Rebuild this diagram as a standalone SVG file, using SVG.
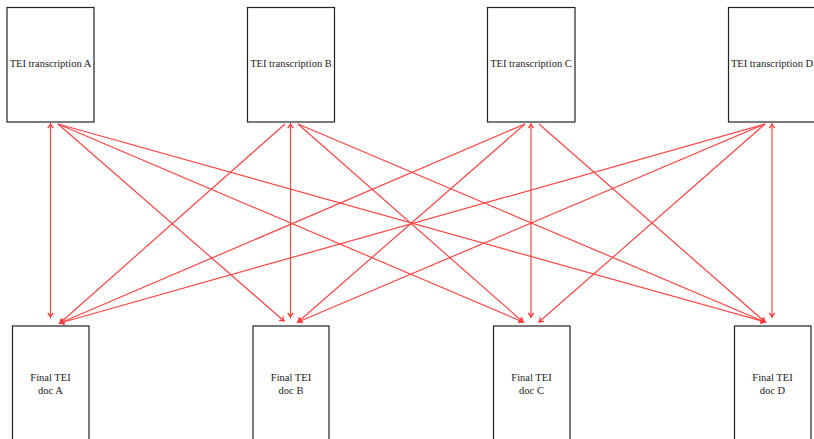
<svg xmlns="http://www.w3.org/2000/svg" width="814" height="439" viewBox="0 0 814 439">
<style>
.box{fill:#fff;stroke:#222;stroke-width:1.2}
.lbl{font-family:"Liberation Serif",serif;font-size:10.5px;fill:#222;text-anchor:middle}
.e{stroke:#ff4545;stroke-width:1.2;fill:none;marker-end:url(#ah)}
.v{marker-start:url(#as)}
</style>
<defs>
<marker id="ah" markerUnits="userSpaceOnUse" viewBox="-6 -4 8 8" refX="0" refY="0" markerWidth="8" markerHeight="8" orient="auto">
<path d="M-4,-2.8 Q-1.5,-0.5 0,0 Q-1.5,0.5 -4,2.8" fill="none" stroke="#ff3030" stroke-width="1.2"/>
</marker>
<marker id="as" markerUnits="userSpaceOnUse" viewBox="-6 -4 8 8" refX="0" refY="0" markerWidth="8" markerHeight="8" orient="auto-start-reverse">
<path d="M-4,-2.8 Q-1.5,-0.5 0,0 Q-1.5,0.5 -4,2.8" fill="none" stroke="#ff3030" stroke-width="1.2"/>
</marker>
</defs>
<g id="tA"><rect class="box" x="7" y="7.5" width="87" height="114.5"/><text class="lbl" x="50.5" y="67">TEI transcription A</text></g>
<g id="tB"><rect class="box" x="247.5" y="7.5" width="87" height="114.5"/><text class="lbl" x="291" y="67">TEI transcription B</text></g>
<g id="tC"><rect class="box" x="487.5" y="7.5" width="87.5" height="114.5"/><text class="lbl" x="531" y="67">TEI transcription C</text></g>
<g id="tD"><rect class="box" x="728.5" y="7.5" width="87" height="114.5"/><text class="lbl" x="772" y="67">TEI transcription D</text></g>
<g id="fA"><rect class="box" x="12.5" y="326" width="76.5" height="120"/><text class="lbl" x="50.5" y="381">Final TEI</text><text class="lbl" x="50.5" y="394">doc A</text></g>
<g id="fB"><rect class="box" x="253" y="326" width="76" height="120"/><text class="lbl" x="291" y="381">Final TEI</text><text class="lbl" x="291" y="394">doc B</text></g>
<g id="fC"><rect class="box" x="493.5" y="326" width="76.5" height="120"/><text class="lbl" x="531.5" y="381">Final TEI</text><text class="lbl" x="531.5" y="394">doc C</text></g>
<g id="fD"><rect class="box" x="734.5" y="326" width="76.5" height="120"/><text class="lbl" x="772.5" y="381">Final TEI</text><text class="lbl" x="772.5" y="394">doc D</text></g>
<g id="connectors">
<line class="e v" x1="50.5" y1="124" x2="50.5" y2="317"/>
<line class="e v" x1="290.5" y1="124" x2="290.5" y2="317"/>
<line class="e v" x1="531" y1="124" x2="531" y2="317"/>
<line class="e v" x1="772" y1="124" x2="772" y2="317"/>
<line class="e" x1="58" y1="124" x2="284" y2="321"/>
<line class="e" x1="58" y1="124" x2="523" y2="322"/>
<line class="e" x1="58" y1="124" x2="765" y2="322"/>
<line class="e" x1="285" y1="124" x2="60" y2="323"/>
<line class="e" x1="298" y1="124" x2="523" y2="322"/>
<line class="e" x1="298" y1="124" x2="765" y2="322"/>
<line class="e" x1="525" y1="124" x2="60" y2="323"/>
<line class="e" x1="525" y1="124" x2="298" y2="322"/>
<line class="e" x1="539" y1="124" x2="765" y2="322"/>
<line class="e" x1="765" y1="124" x2="60" y2="323"/>
<line class="e" x1="765" y1="124" x2="298" y2="322"/>
<line class="e" x1="765" y1="124" x2="539" y2="322"/>
</g>
</svg>
